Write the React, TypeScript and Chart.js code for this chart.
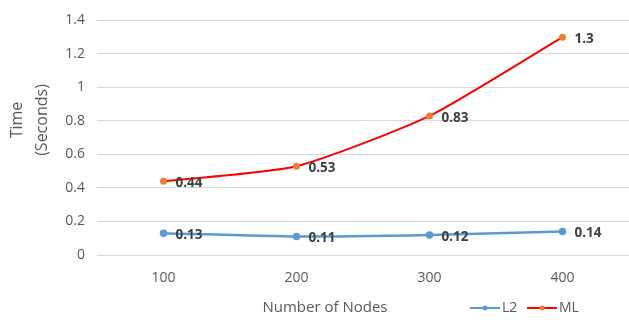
import React, { useEffect, useRef } from "react";
import { Chart, registerables } from "chart.js";

Chart.register(...registerables);

const categories = ["100", "200", "300", "400"];
const l2Values = [0.13, 0.11, 0.12, 0.14];
const mlValues = [0.44, 0.53, 0.83, 1.3];
const xTitle = "Number of Nodes";
const yTitle = ["Time", "(Seconds)"];

const FONT = "'Open Sans', 'Liberation Sans', sans-serif";

const labelPlugin = {
  id: "customDecor",
  afterDatasetsDraw(chart: any) {
    const ctx = chart.ctx;
    ctx.save();
    // data labels
    ctx.font = `bold 13.5px ${FONT}`;
    ctx.fillStyle = "#404040";
    ctx.textAlign = "left";
    ctx.textBaseline = "middle";
    chart.data.datasets.forEach((ds: any, i: number) => {
      const meta = chart.getDatasetMeta(i);
      meta.data.forEach((pt: any, j: number) => {
        ctx.fillText(String(ds.data[j]), pt.x + 12, pt.y + 2);
      });
    });
    // x title
    ctx.font = `15px ${FONT}`;
    ctx.fillStyle = "#595959";
    ctx.textAlign = "center";
    ctx.fillText(xTitle, 325, 308);
    // y title
    ctx.save();
    ctx.translate(29, 120);
    ctx.rotate(-Math.PI / 2);
    ctx.textAlign = "center";
    ctx.font = `16px ${FONT}`;
    ctx.fillText(yTitle[0], 0, -12);
    ctx.fillText(yTitle[1], 0, 13);
    ctx.restore();
    // legend
    const items = [
      { text: "L2", line: "#5B9BD5", marker: "#5B9BD5", x: 470 },
      { text: "ML", line: "#FF0000", marker: "#ED7D31", x: 527 },
    ];
    const ly = 308;
    items.forEach((it) => {
      ctx.strokeStyle = it.line;
      ctx.lineWidth = 2;
      ctx.beginPath();
      ctx.moveTo(it.x, ly);
      ctx.lineTo(it.x + 30, ly);
      ctx.stroke();
      ctx.fillStyle = it.marker;
      ctx.beginPath();
      ctx.arc(it.x + 15, ly, 2.5, 0, Math.PI * 2);
      ctx.fill();
      ctx.fillStyle = "#595959";
      ctx.font = `14px ${FONT}`;
      ctx.textAlign = "left";
      ctx.fillText(it.text, it.x + 32, ly);
    });
    ctx.restore();
  },
};

export default function App() {
  const ref = useRef<HTMLCanvasElement>(null);
  useEffect(() => {
    if (!ref.current) return;
    const chart = new Chart(ref.current, {
      type: "line",
      data: {
        labels: categories,
        datasets: [
          {
            label: "L2",
            data: l2Values,
            borderColor: "#5B9BD5",
            backgroundColor: "#5B9BD5",
            pointBackgroundColor: "#5B9BD5",
            pointBorderColor: "#5B9BD5",
            borderWidth: 2.5,
            pointRadius: 2.5,
            tension: 0.2,
          },
          {
            label: "ML",
            data: mlValues,
            borderColor: "#FF0000",
            backgroundColor: "#ED7D31",
            pointBackgroundColor: "#ED7D31",
            pointBorderColor: "#ED7D31",
            borderWidth: 2,
            pointRadius: 2.5,
            tension: 0.2,
          },
        ],
      },
      options: {
        animation: false,
        responsive: false,
        maintainAspectRatio: false,
        layout: { autoPadding: false, padding: { top: 18, right: 0, bottom: 0, left: 0 } },
        plugins: {
          legend: { display: false },
          tooltip: { enabled: false },
        },
        scales: {
          x: {
            offset: true,
            grid: { display: false, drawTicks: false },
            border: { display: false },
            ticks: {
              color: "#595959",
              font: { family: FONT, size: 14 },
              padding: 15,
            },
            afterFit(scale: any) {
              scale.height = 65;
            },
          },
          y: {
            min: 0,
            max: 1.4,
            grid: { color: "#D9D9D9", lineWidth: 1, drawTicks: false },
            border: { display: false },
            ticks: {
              stepSize: 0.2,
              color: "#595959",
              font: { family: FONT, size: 14 },
              padding: 12,
              callback: (v: any) => String(Math.round(Number(v) * 10) / 10),
            },
            afterFit(scale: any) {
              scale.width = 97;
            },
          },
        },
      },
      plugins: [labelPlugin],
    });
    return () => chart.destroy();
  }, []);
  return (
    <div style={{ position: "fixed", left: 0, top: 0, width: 629, height: 320, background: "#fff" }}>
      <canvas ref={ref} width={629} height={320} style={{ width: 629, height: 320 }} />
    </div>
  );
}
